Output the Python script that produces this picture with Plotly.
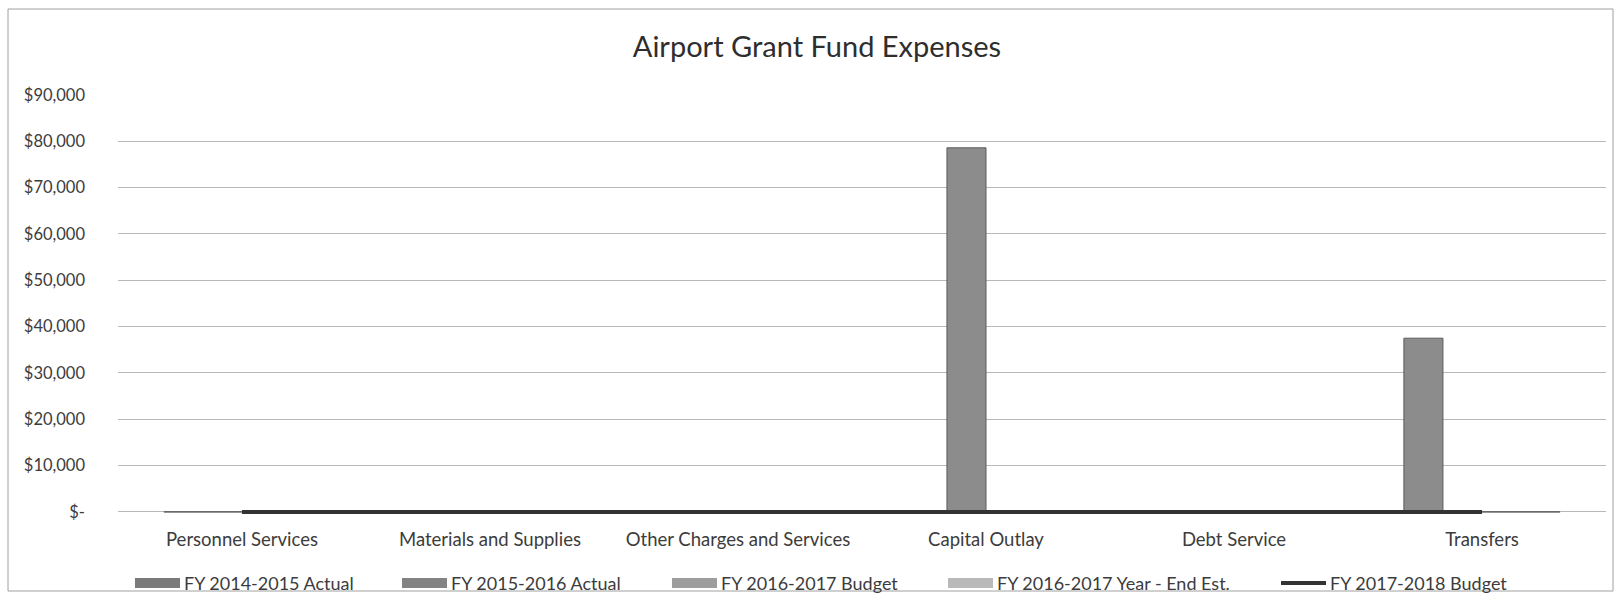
import plotly.graph_objects as go

# Expense categories and series values (USD)
categories = ["Personnel Services", "Materials and Supplies", "Other Charges and Services",
              "Capital Outlay", "Debt Service", "Transfers"]
fy1415_actual = [0, 0, 0, 0, 0, 37500]
fy1516_actual = [0, 0, 0, 78600, 0, 0]
fy1617_budget = [0, 0, 0, 0, 0, 0]
fy1617_ye_est = [0, 0, 0, 0, 0, 0]
fy1718_budget = [0, 0, 0, 0, 0, 0]

series_names = ["FY 2014-2015 Actual", "FY 2015-2016 Actual", "FY 2016-2017 Budget",
                "FY 2016-2017 Year - End Est.", "FY 2017-2018 Budget"]

y_tickvals = [0, 10000, 20000, 30000, 40000, 50000, 60000, 70000, 80000, 90000]
y_ticktext = ["$-", "$10,000", "$20,000", "$30,000", "$40,000", "$50,000",
              "$60,000", "$70,000", "$80,000", "$90,000"]

W, H = 1618, 612
# small padding below zero so the thick budget line at $0 is not clipped
Y_MIN, Y_MAX = -450, 90000
ML, MR, MT, MB = 118, 12, 95, 98
FONT = "Lato, 'Open Sans', sans-serif"
TEXT = "#3c3c3c"

swatch_colors = ["#7a7a7a", "#838383", "#9d9d9d", "#b9b9b9"]
bar_fill = "#8c8c8c"
line_color = "#333333"

fig = go.Figure()
for name, vals in zip(series_names[:4], [fy1415_actual, fy1516_actual,
                                         fy1617_budget, fy1617_ye_est]):
    fig.add_trace(go.Bar(
        x=categories, y=vals, name=name, showlegend=False,
        marker=dict(color=bar_fill, line=dict(color="#5c5c5c", width=1)),
    ))
fig.add_trace(go.Scatter(
    x=categories, y=fy1718_budget, name=series_names[4], showlegend=False,
    mode="lines", line=dict(color=line_color, width=4),
))

plot_w = W - ML - MR
plot_h = H - MT - MB

def px_x(p):
    return (p - ML) / plot_w

def px_y(p):
    return (H - MB - p) / plot_h

# Legend row drawn beneath the plot: swatch, then label
legend_x = [135, 402, 672, 948, 1281]
legend_y = 583
shapes = [dict(type="rect", xref="paper", yref="paper",
               x0=px_x(8), x1=px_x(1613), y0=px_y(591), y1=px_y(9),
               line=dict(color="#a0a0a0", width=1), layer="below")]
annotations = []
for i, (name, lx) in enumerate(zip(series_names, legend_x)):
    if i < 4:
        shapes.append(dict(type="rect", xref="paper", yref="paper",
                           x0=px_x(lx), x1=px_x(lx + 45),
                           y0=px_y(legend_y + 5), y1=px_y(legend_y - 5),
                           fillcolor=swatch_colors[i], line=dict(width=0)))
    else:
        shapes.append(dict(type="line", xref="paper", yref="paper",
                           x0=px_x(lx), x1=px_x(lx + 45),
                           y0=px_y(legend_y), y1=px_y(legend_y),
                           line=dict(color=line_color, width=4)))
    annotations.append(dict(text=name, xref="paper", yref="paper",
                            x=px_x(lx + 47), y=px_y(legend_y),
                            xanchor="left", yanchor="middle", showarrow=False,
                            font=dict(family=FONT, size=18, color=TEXT)))

fig.update_layout(
    width=W, height=H,
    margin=dict(l=ML, r=MR, t=MT, b=MB),
    paper_bgcolor="white", plot_bgcolor="white",
    font=dict(family=FONT, color=TEXT, size=16),
    title=dict(text="Airport Grant Fund Expenses", x=px_x(817), xanchor="center",
               xref="paper", y=1 - 47 / H, yanchor="middle",
               font=dict(family=FONT, size=29, color="#2e2e2e")),
    barmode="group", bargap=0.37, bargroupgap=0,
    showlegend=False,
    shapes=shapes, annotations=annotations,
)
fig.update_xaxes(showgrid=False, showline=False, ticks="", ticklabelstandoff=12,
                 tickfont=dict(size=18.5, color=TEXT))
fig.update_yaxes(range=[Y_MIN, Y_MAX], tickvals=y_tickvals, ticktext=y_ticktext,
                 showgrid=True, gridcolor="#b8b8b8", gridwidth=1,
                 zeroline=True, zerolinecolor="#b8b8b8", zerolinewidth=1,
                 showline=False, ticks="", ticklabelstandoff=32,
                 tickfont=dict(size=16.5, color=TEXT))

fig.write_html("out.html")
